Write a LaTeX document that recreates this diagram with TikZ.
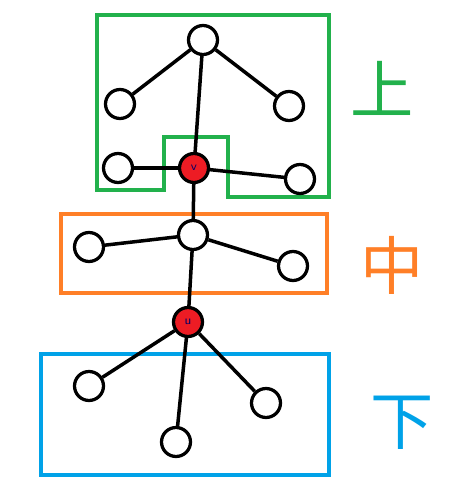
\documentclass[tikz,border=0pt]{standalone}
\usepackage{fontspec}
\newfontfamily\cjk{Noto Sans CJK SC}
\definecolor{pgreen}{RGB}{34,177,76}
\definecolor{porange}{RGB}{255,127,39}
\definecolor{pblue}{RGB}{0,162,232}
\definecolor{pred}{RGB}{237,28,36}
\tikzset{
  vtx/.style={circle,draw=black,line width=0.065cm,fill=white,minimum size=0.58cm,inner sep=0pt},
  rvtx/.style={vtx,fill=pred,font=\fontsize{7}{7}\selectfont\sffamily,text=black!60!blue},
  edge/.style={draw=black,line width=0.07cm},
  boxline/.style={line width=0.065cm},
  lab/.style={font=\cjk\fontsize{36}{36}\selectfont,inner sep=0pt}
}
\begin{document}
\begin{tikzpicture}[x=0.02cm,y=-0.02cm]
\useasboundingbox (0,0) rectangle (450,500);
% boxes
\draw[boxline,draw=pgreen] (97,15) -- (329,15) -- (329,197) -- (228,197) -- (228,137) -- (164,137) -- (164,190) -- (97,190) -- cycle;
\draw[boxline,draw=porange] (61,214) rectangle (327,293);
\draw[boxline,draw=pblue] (41,354) rectangle (329,475);
% nodes
\node[vtx] (r) at (203,40) {};
\node[vtx] (a1) at (120,104) {};
\node[vtx] (a2) at (289,106) {};
\node[rvtx] (v) at (194,168) {v};
\node[vtx] (b1) at (118,168) {};
\node[vtx] (b2) at (300,179) {};
\node[vtx] (m) at (193,235) {};
\node[vtx] (c1) at (89,247) {};
\node[vtx] (c2) at (293,266) {};
\node[rvtx] (u) at (188,322) {u};
\node[vtx] (d1) at (89,386) {};
\node[vtx] (d2) at (176,442) {};
\node[vtx] (d3) at (266,403) {};
% edges
\draw[edge] (r) -- (a1);
\draw[edge] (r) -- (a2);
\draw[edge] (r) -- (v);
\draw[edge] (v) -- (b1);
\draw[edge] (v) -- (b2);
\draw[edge] (v) -- (m);
\draw[edge] (m) -- (c1);
\draw[edge] (m) -- (c2);
\draw[edge] (m) -- (u);
\draw[edge] (u) -- (d1);
\draw[edge] (u) -- (d2);
\draw[edge] (u) -- (d3);
% labels
\node[lab,text=pgreen] (t1) at (382,88) {上};
\node[lab,text=porange] (t2) at (392,265) {中};
\node[lab,text=pblue] (t3) at (402,423) {下};
\end{tikzpicture}
\end{document}
